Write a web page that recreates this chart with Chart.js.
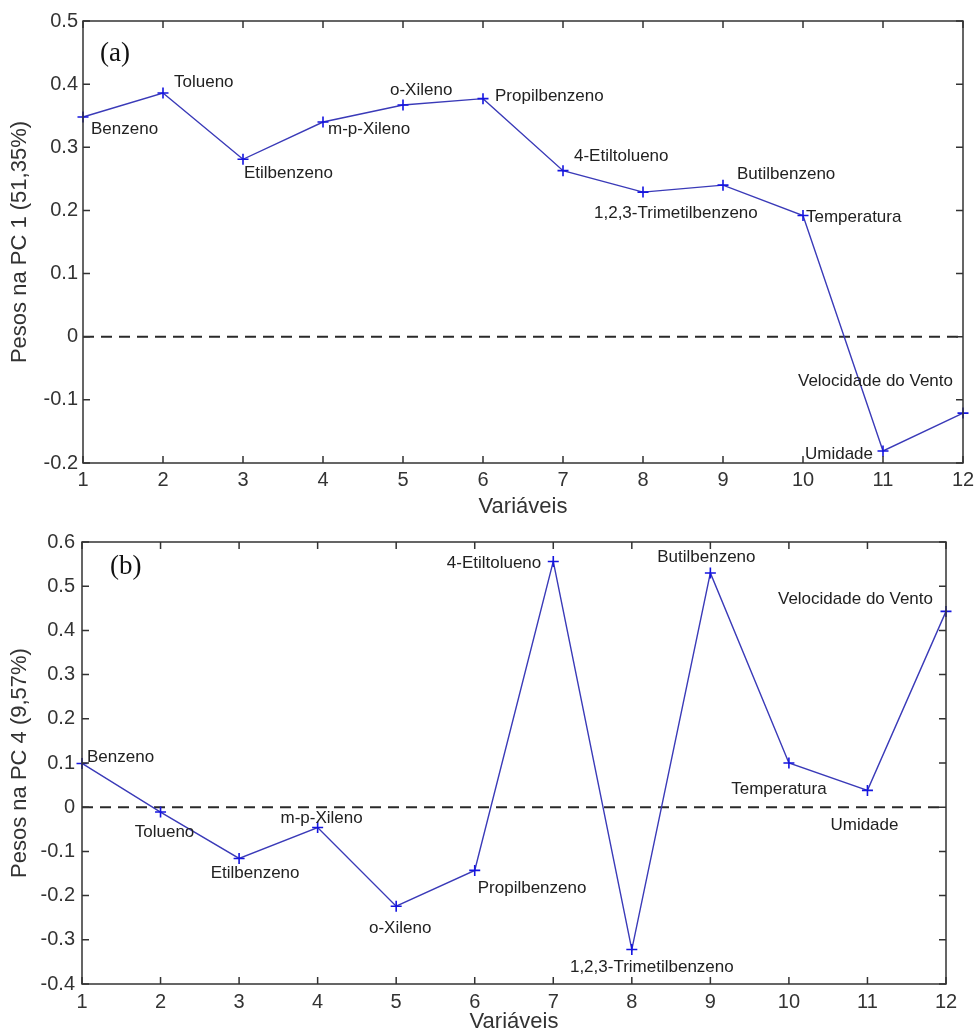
<!DOCTYPE html>
<html><head><meta charset="utf-8">
<script src="https://cdn.jsdelivr.net/npm/chart.js@4.4.0/dist/chart.umd.min.js"></script>
<style>
html,body{margin:0;padding:0;background:#fff;}
#wrap{position:relative;width:976px;height:1033px;overflow:hidden;background:#fff;}
canvas{position:absolute;left:0;}
</style></head><body>
<div id="wrap">
<canvas id="c1" width="976" height="520" style="top:0px"></canvas>
<canvas id="c2" width="976" height="513" style="top:520px"></canvas>
</div>
<script>
// ---------------- DATA ----------------
const variables = [1, 2, 3, 4, 5, 6, 7, 8, 9, 10, 11, 12];
const variableNames = ['Benzeno', 'Tolueno', 'Etilbenzeno', 'm-p-Xileno', 'o-Xileno', 'Propilbenzeno',
  '4-Etiltolueno', '1,2,3-Trimetilbenzeno', 'Butilbenzeno', 'Temperatura', 'Umidade', 'Velocidade do Vento'];
const pc1Weights = [0.348, 0.386, 0.281, 0.340, 0.367, 0.377, 0.263, 0.229, 0.240, 0.192, -0.181, -0.121];
const pc4Weights = [0.099, -0.011, -0.116, -0.046, -0.224, -0.143, 0.556, -0.322, 0.530, 0.100, 0.038, 0.443];
const xTicks = [1, 2, 3, 4, 5, 6, 7, 8, 9, 10, 11, 12];
const yTicksPC1 = [-0.2, -0.1, 0, 0.1, 0.2, 0.3, 0.4, 0.5];
const yTicksPC4 = [-0.4, -0.3, -0.2, -0.1, 0, 0.1, 0.2, 0.3, 0.4, 0.5, 0.6];
const referenceLevel = 0;

// ---------------- LABEL PLACEMENT (style only) ----------------
// [textAlign, dx, dy] relative to each data point, in pixels
const placePC1 = [
  ['left', 8, 12], ['left', 11, -11], ['left', 1, 14], ['left', 5, 7], ['left', -13, -15], ['left', 12, -2],
  ['left', 11, -14], ['left', -49, 21], ['left', 14, -11], ['left', 3, 2], ['right', -10, 3], ['right', -10, -32]
];
const placePC4 = [
  ['left', 5, -6], ['center', 4, 20], ['center', 16, 15], ['center', 4, -9], ['center', 4, 22], ['left', 3, 18],
  ['right', -12, 2], ['center', 20, 18], ['center', -4, -16], ['center', -10, 26], ['center', -3, 35], ['right', -13, -12]
];

const FONT = '"Liberation Sans", Arial, sans-serif';
const AXIS_COLOR = '#333333';
const TEXT_COLOR = '#222222';
const LINE_COLOR = '#3a3ab8';
const MARK_COLOR = '#1515e0';

const decorPlugin = {
  id: 'decor',
  afterDatasetsDraw(chart, args, opts) {
    const ctx = chart.ctx;
    const a = chart.chartArea;
    const xs = chart.scales.x, ys = chart.scales.y;
    ctx.save();
    // frame
    ctx.strokeStyle = AXIS_COLOR;
    ctx.lineWidth = 1.5;
    ctx.strokeRect(a.left, a.top, a.right - a.left, a.bottom - a.top);
    // inward ticks
    const tl = 7;
    ctx.beginPath();
    xs.ticks.forEach(t => {
      const px = xs.getPixelForValue(t.value);
      ctx.moveTo(px, a.bottom); ctx.lineTo(px, a.bottom - tl);
      ctx.moveTo(px, a.top); ctx.lineTo(px, a.top + tl);
    });
    ys.ticks.forEach(t => {
      const py = ys.getPixelForValue(t.value);
      ctx.moveTo(a.left, py); ctx.lineTo(a.left + tl, py);
      ctx.moveTo(a.right, py); ctx.lineTo(a.right - tl, py);
    });
    ctx.stroke();
    // point labels
    const meta = chart.getDatasetMeta(opts.datasetIndex);
    ctx.fillStyle = TEXT_COLOR;
    ctx.font = '17px ' + FONT;
    ctx.textBaseline = 'middle';
    meta.data.forEach((pt, i) => {
      const p = opts.placement[i];
      ctx.textAlign = p[0];
      ctx.fillText(opts.names[i], pt.x + p[1], pt.y + p[2]);
    });
    // panel letter
    ctx.font = '27px "Liberation Serif", "Times New Roman", serif';
    ctx.fillStyle = '#111';
    ctx.textAlign = 'left';
    ctx.fillText(opts.letter, opts.letterX, opts.letterY);
    ctx.restore();
  }
};

function fmt(v) { return String(Math.round(v * 10) / 10); }

function makeChart(id, values, yTicks, yTitle, placement, letter, geom) {
  return new Chart(document.getElementById(id), {
    type: 'line',
    data: {
      datasets: [
        {
          data: variables.map((x, i) => ({ x: x, y: values[i] })),
          borderColor: LINE_COLOR,
          borderWidth: 1.4,
          pointStyle: 'cross',
          pointRadius: 5.5,
          pointBorderWidth: 1.6,
          pointBorderColor: MARK_COLOR,
          pointBackgroundColor: MARK_COLOR,
          tension: 0,
          clip: false,
          order: 1
        },
        {
          data: [{ x: variables[0], y: referenceLevel }, { x: variables[variables.length - 1], y: referenceLevel }],
          borderColor: '#2a2a2a',
          borderWidth: 2,
          borderDash: [11, 7],
          pointRadius: 0,
          order: 2
        }
      ]
    },
    options: {
      responsive: false,
      animation: false,
      devicePixelRatio: 1,
      layout: { padding: { top: geom.top, right: geom.right, left: 0, bottom: 0 } },
      plugins: {
        legend: { display: false },
        tooltip: { enabled: false },
        decor: { datasetIndex: 0, names: variableNames, placement: placement, letter: letter, letterX: geom.letterX, letterY: geom.letterY }
      },
      scales: {
        x: {
          type: 'linear',
          min: variables[0],
          max: variables[variables.length - 1],
          afterBuildTicks: s => { s.ticks = xTicks.map(v => ({ value: v })); },
          afterFit: s => { s.height = geom.xHeight; s.paddingLeft = 0; s.paddingRight = 0; },
          grid: { display: false, drawTicks: false },
          border: { display: false },
          ticks: { font: { family: FONT, size: 20 }, color: AXIS_COLOR, padding: geom.xPad, maxRotation: 0, autoSkip: false },
          title: { display: true, text: 'Variáveis', font: { family: FONT, size: 22 }, color: AXIS_COLOR, padding: { top: 0, bottom: geom.xTitlePad } }
        },
        y: {
          type: 'linear',
          min: yTicks[0],
          max: yTicks[yTicks.length - 1],
          afterBuildTicks: s => { s.ticks = yTicks.map(v => ({ value: v })); },
          afterFit: s => { s.width = geom.yWidth; s.paddingTop = 0; s.paddingBottom = 0; },
          grid: { display: false, drawTicks: false },
          border: { display: false },
          ticks: { font: { family: FONT, size: 20 }, color: AXIS_COLOR, padding: geom.yPad, callback: v => fmt(v) },
          title: { display: true, text: yTitle, font: { family: FONT, size: 22 }, color: AXIS_COLOR, padding: { top: 7, bottom: 0 } }
        }
      }
    },
    plugins: [decorPlugin]
  });
}

makeChart('c1', pc1Weights, yTicksPC1, 'Pesos na PC 1 (51,35%)', placePC1, '(a)',
  { top: 21, right: 13, xHeight: 57, yWidth: 83, xPad: 5, yPad: 5, xTitlePad: 0, letterX: 100, letterY: 54 });
makeChart('c2', pc4Weights, yTicksPC4, 'Pesos na PC 4 (9,57%)', placePC4, '(b)',
  { top: 22, right: 30, xHeight: 49, yWidth: 82, xPad: 6, yPad: 7, xTitlePad: -2, letterX: 110, letterY: 47 });
</script>
</body></html>
